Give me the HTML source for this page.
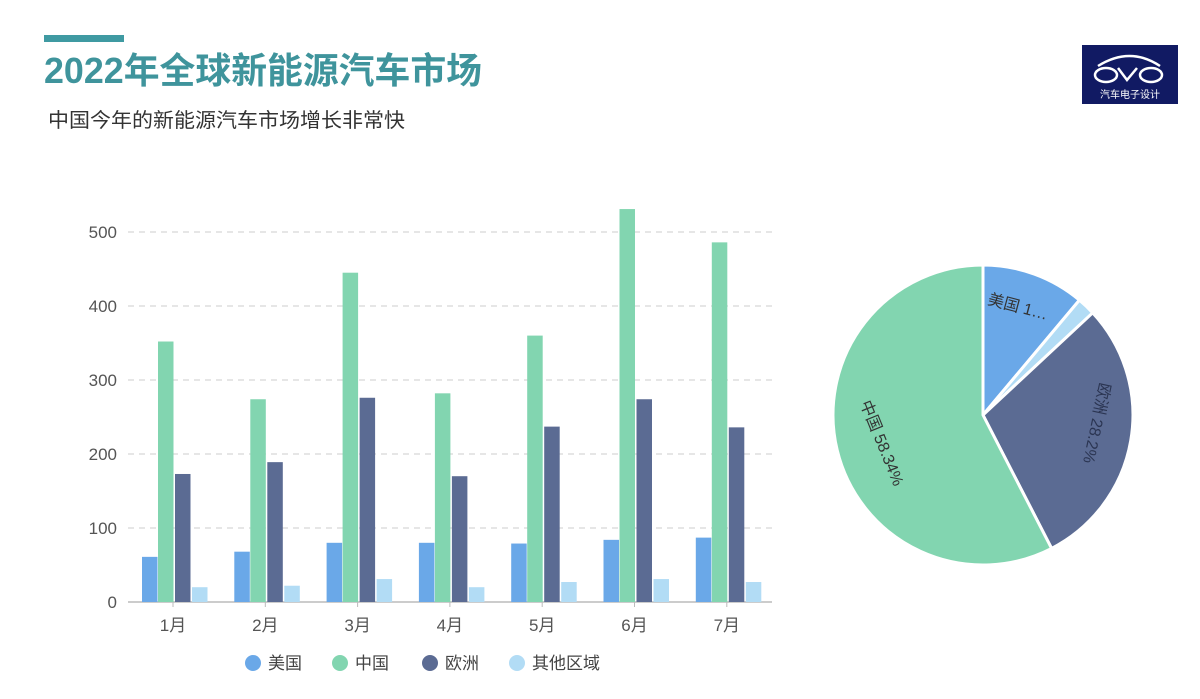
<!DOCTYPE html>
<html><head><meta charset="utf-8"><style>
body{margin:0;background:#fff;}
svg{display:block;font-family:"Liberation Sans","Noto Sans CJK SC",sans-serif;}
</style></head><body>
<svg width="1200" height="699" viewBox="0 0 1200 699" xmlns="http://www.w3.org/2000/svg">
<rect width="1200" height="699" fill="#fff"/>
<rect x="44" y="35" width="80" height="7" fill="#3f9aa2"/>
<text x="44" y="83" font-size="36" font-weight="bold" fill="#3f949c" textLength="438" lengthAdjust="spacingAndGlyphs">2022年全球新能源汽车市场</text>
<text x="48" y="127" font-size="20" fill="#333" textLength="357" lengthAdjust="spacingAndGlyphs">中国今年的新能源汽车市场增长非常快</text>
<rect x="1082" y="45" width="96" height="59" fill="#111a63"/>
<g fill="none" stroke="#fff" stroke-width="2.5">
<ellipse cx="1106" cy="75" rx="11" ry="7"/><ellipse cx="1151" cy="75" rx="11" ry="7"/>
<path d="M1098 66 Q1130 46 1160 66"/><path d="M1118 68 L1127 80 L1137 68"/>
</g>
<text x="1130" y="98" font-size="10" fill="#fff" text-anchor="middle">汽车电子设计</text>
<g stroke="#ccc" stroke-dasharray="6,5" stroke-width="1">
<line x1="128" y1="528" x2="772" y2="528"/><line x1="128" y1="454" x2="772" y2="454"/>
<line x1="128" y1="380" x2="772" y2="380"/><line x1="128" y1="306" x2="772" y2="306"/>
<line x1="128" y1="232" x2="772" y2="232"/>
</g>
<line x1="128" y1="602" x2="772" y2="602" stroke="#bbb" stroke-width="1.5"/>
<g font-size="17" fill="#555" text-anchor="end">
<text x="117" y="608">0</text><text x="117" y="534">100</text><text x="117" y="460">200</text>
<text x="117" y="386">300</text><text x="117" y="312">400</text><text x="117" y="238">500</text>
</g>
<g id="bars"></g>
<g font-size="17" fill="#555" text-anchor="middle" id="xl"></g>
<g font-size="17" fill="#444">
<circle cx="253" cy="663" r="8" fill="#6aa8e8"/><text x="268" y="669">美国</text>
<circle cx="340" cy="663" r="8" fill="#82d5b0"/><text x="355" y="669">中国</text>
<circle cx="430" cy="663" r="8" fill="#5b6b93"/><text x="445" y="669">欧洲</text>
<circle cx="517" cy="663" r="8" fill="#b2dcf5"/><text x="532" y="669">其他区域</text>
</g>
<g stroke="#fff" stroke-width="3" stroke-linejoin="round">
<path d="M983 415 L983 265 A150 150 0 0 1 1079.4 300.1 Z" fill="#6aa8e8"/>
<path d="M983 415 L1079.4 300.1 A150 150 0 0 1 1092.7 312.8 Z" fill="#b2dcf5"/>
<path d="M983 415 L1092.7 312.8 A150 150 0 0 1 1051.6 548.4 Z" fill="#5b6b93"/>
<path d="M983 415 L1051.6 548.4 A150 150 0 1 1 983 265 Z" fill="#82d5b0"/>
</g>
<g font-size="16" fill="#333">
<text transform="translate(987,304) rotate(15)">美国  1…</text>
<text transform="translate(1100,382) rotate(102)" fill="#2b3552">欧洲  28.2%</text>
<text transform="translate(860,403) rotate(68)">中国  58.34%</text>
</g>
</svg>
<script>
var d=[[61,352,173,20],[68,274,189,22],[80,445,276,31],[80,282,170,20],[79,360,237,27],[84,531,274,31],[87,486,236,27]];
var c=["#6aa8e8","#82d5b0","#5b6b93","#b2dcf5"],off=[-31,-15,2,19],ns="http://www.w3.org/2000/svg";
var g=document.getElementById("bars"),xl=document.getElementById("xl");
d.forEach(function(r,i){var cx=173+i*92.3;
r.forEach(function(v,j){var e=document.createElementNS(ns,"rect");var h=v*0.74;
e.setAttribute("x",cx+off[j]);e.setAttribute("y",602-h);e.setAttribute("width",15.5);e.setAttribute("height",h);e.setAttribute("fill",c[j]);g.appendChild(e);});
var t=document.createElementNS(ns,"line");t.setAttribute("x1",cx);t.setAttribute("x2",cx);t.setAttribute("y1",602);t.setAttribute("y2",607);t.setAttribute("stroke","#bbb");g.appendChild(t);
var s=document.createElementNS(ns,"text");s.setAttribute("x",cx);s.setAttribute("y",631);s.textContent=(i+1)+"月";xl.appendChild(s);});
</script>
</body></html>
